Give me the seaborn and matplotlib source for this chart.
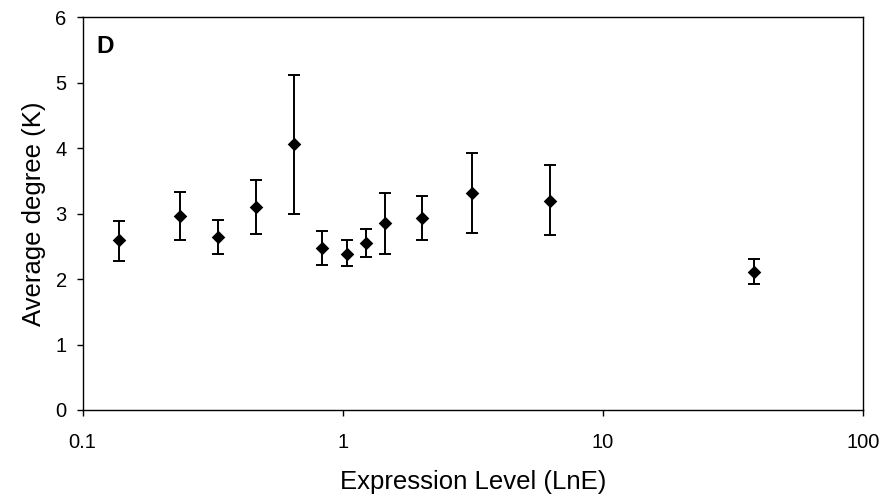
import matplotlib
matplotlib.use("Agg")
import matplotlib.pyplot as plt
import seaborn as sns
import pandas as pd
from matplotlib.ticker import FixedLocator, NullLocator, FixedFormatter

# Data
expression = [0.138, 0.237, 0.332, 0.465, 0.651, 0.834, 1.037, 1.231, 1.456, 2.015, 3.126, 6.24, 38.0]
avg_degree = [2.59, 2.96, 2.65, 3.10, 4.07, 2.47, 2.39, 2.55, 2.85, 2.94, 3.31, 3.20, 2.11]
err_upper = [2.89, 3.33, 2.90, 3.52, 5.12, 2.73, 2.59, 2.76, 3.32, 3.27, 3.93, 3.74, 2.30]
err_lower = [2.28, 2.60, 2.39, 2.69, 3.00, 2.21, 2.20, 2.34, 2.38, 2.60, 2.70, 2.67, 1.92]
x_ticks = [0.1, 1, 10, 100]
x_tick_labels = ["0.1", "1", "10", "100"]
y_ticks = [0, 1, 2, 3, 4, 5, 6]

df = pd.DataFrame({"x": expression, "y": avg_degree,
                   "hi": err_upper, "lo": err_lower})

sns.set_theme(style="white")
plt.rcParams["font.family"] = ["Liberation Sans", "DejaVu Sans"]

fig = plt.figure(figsize=(8.88, 4.99), dpi=100)
ax = fig.add_axes([0.0931, 0.1784, 0.9722 - 0.0931, 0.9653 - 0.1784])

ax.set_xscale("log")
ax.errorbar(df["x"], df["y"],
            yerr=[df["y"] - df["lo"], df["hi"] - df["y"]],
            fmt="none", ecolor="black", elinewidth=1.4, capsize=4.5, capthick=1.4, zorder=2)
sns.scatterplot(data=df, x="x", y="y", marker="D", s=48, color="black",
                edgecolor="black", linewidth=0, ax=ax, zorder=3)

ax.set_xlim(0.1, 100)
ax.set_ylim(0, 6)
ax.xaxis.set_major_locator(FixedLocator(x_ticks))
ax.xaxis.set_major_formatter(FixedFormatter(x_tick_labels))
ax.xaxis.set_minor_locator(NullLocator())
ax.set_yticks(y_ticks)
ax.set_yticklabels([str(v) for v in y_ticks])

for s in ax.spines.values():
    s.set_visible(True)
    s.set_color("black")
    s.set_linewidth(1.0)

ax.tick_params(axis="both", which="major", direction="out", length=4.5, width=1.0,
               color="black", labelsize=14.5, labelcolor="black")
ax.tick_params(axis="x", pad=12, bottom=True, top=False)
ax.tick_params(axis="y", pad=7, left=True, right=False)

ax.set_xlabel("Expression Level (LnE)", fontsize=18.5, color="black", labelpad=13)
ax.set_ylabel("Average degree (K)", fontsize=18.5, color="black", labelpad=7)

ax.text(0.018, 0.909, "D", transform=ax.transAxes, fontsize=17.5, fontweight="bold",
        va="baseline", ha="left", color="black")

fig.savefig("out.png", dpi=100)
